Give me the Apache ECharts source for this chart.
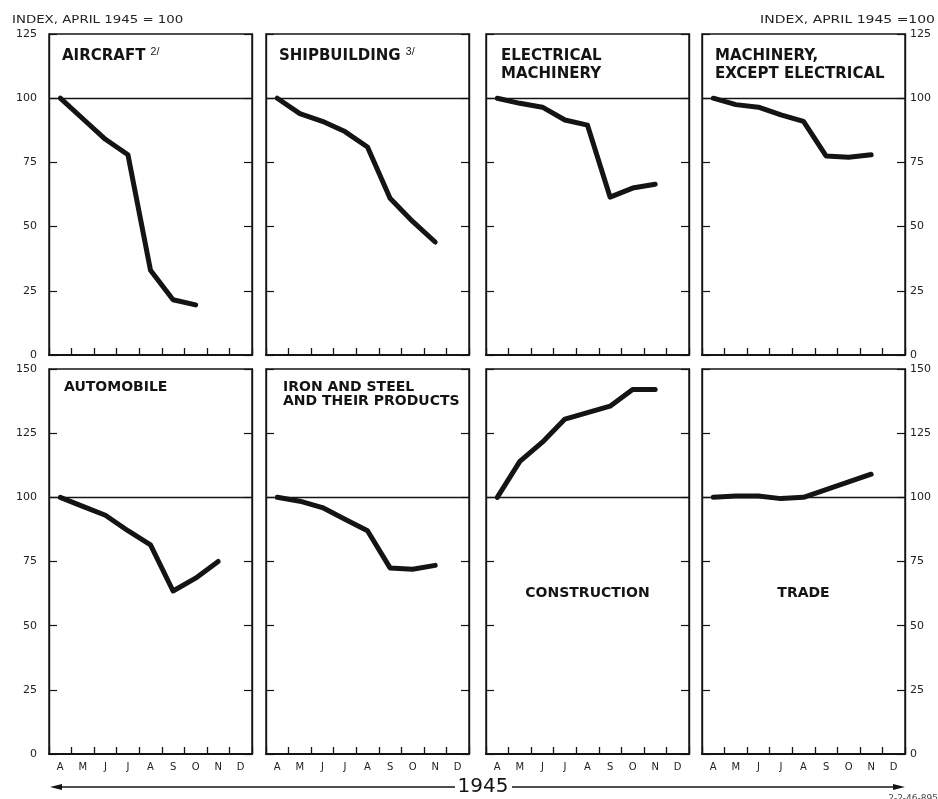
<!DOCTYPE html>
<html><head><meta charset="utf-8">
<script src="https://cdn.jsdelivr.net/npm/echarts@6/dist/echarts.min.js"></script>
<style>html,body{margin:0;padding:0;background:#fff}#c{width:938px;height:799px}</style>
</head><body><div id="c"></div>
<script>
// ---- data ----
const months = ['A','M','J','J','A','S','O','N','D'];
const aircraft = [100, 92, 84, 78, 33, 21.5, 19.5];
const shipbuilding = [100, 94, 91, 87, 81, 61, 52, 44];
const electricalMachinery = [100, 98, 96.5, 91.5, 89.5, 61.5, 65, 66.5];
const machineryExceptElectrical = [100, 97.5, 96.5, 93.5, 91, 77.5, 77, 78];
const automobile = [100, 96.5, 93, 87, 81.5, 63.5, 68.5, 75];
const ironAndSteel = [100, 98.5, 96, 91.5, 87, 72.5, 72, 73.5];
const construction = [100, 114, 121.5, 130.5, 133, 135.5, 142, 142];
const trade = [100, 100.5, 100.5, 99.5, 100, 103, 106, 109];
const topTicks = [0, 25, 50, 75, 100, 125];
const bottomTicks = [0, 25, 50, 75, 100, 125, 150];
const baseIndex = 100;
const headerLeft = 'INDEX, APRIL 1945 = 100';
const headerRight = 'INDEX, APRIL 1945 =100';
const yearLabel = '1945';
const codeLabel = '2-2-46-895';

const panels = [
  {data: aircraft, title: 'AIRCRAFT {s|2/}'},
  {data: shipbuilding, title: 'SHIPBUILDING {s|3/}'},
  {data: electricalMachinery, title: 'ELECTRICAL\nMACHINERY'},
  {data: machineryExceptElectrical, title: 'MACHINERY,\nEXCEPT ELECTRICAL'},
  {data: automobile, title: 'AUTOMOBILE'},
  {data: ironAndSteel, title: 'IRON AND STEEL\nAND THEIR PRODUCTS'},
  {data: construction, title: 'CONSTRUCTION', centered: true},
  {data: trade, title: 'TRADE', centered: true}
];

// ---- layout ----
const FONT = 'DejaVu Sans';
const INK = '#141414';
const colLeft = [49, 266, 486, 702];
const panelW = 203;
const rows = [{top: 34, height: 321, ticks: topTicks}, {top: 369, height: 385, ticks: bottomTicks}];
const titleOffsets = [[13, 13, 15, 13], [15, 17, 0, 0]];

const grids = [], xAxes = [], yAxes = [], series = [], graphics = [];
panels.forEach((p, i) => {
  const r = Math.floor(i / 4), c = i % 4;
  const row = rows[r];
  const ticks = row.ticks;
  grids.push({left: colLeft[c], top: row.top, width: panelW, height: row.height,
    show: true, borderColor: INK, borderWidth: 1.4, backgroundColor: 'transparent'});
  xAxes.push({
    gridIndex: i, type: 'category', data: months, boundaryGap: true,
    axisLine: {show: true, lineStyle: {color: INK, width: 2.2}},
    axisTick: {show: true, inside: true, length: 7, lineStyle: {color: INK, width: 1.3}},
    axisLabel: {show: r === 1, color: '#222', fontSize: 10, fontFamily: FONT, margin: 8},
    splitLine: {show: false}
  });
  const yBase = {
    gridIndex: i, type: 'value', min: ticks[0], max: ticks[ticks.length - 1],
    interval: ticks[1] - ticks[0],
    axisLine: {show: true, lineStyle: {color: INK, width: 1.4}},
    axisTick: {show: true, inside: true, length: 8, lineStyle: {color: INK, width: 1.2}},
    splitLine: {show: false}
  };
  yAxes.push(Object.assign({}, yBase, {position: 'left',
    axisLabel: {show: c === 0, color: '#222', fontSize: 11, fontFamily: FONT, margin: 12}}));
  yAxes.push(Object.assign({}, yBase, {position: 'right',
    axisLabel: {show: c === 3, color: '#222', fontSize: 11, fontFamily: FONT, margin: 5}}));
  series.push({
    type: 'line', xAxisIndex: i, yAxisIndex: 2 * i, data: p.data,
    showSymbol: false, symbol: 'none', silent: true, animation: false,
    lineStyle: {color: INK, width: 5, cap: 'round', join: 'round'},
    markLine: {silent: true, symbol: 'none', animation: false,
      label: {show: false},
      lineStyle: {color: INK, width: 1.3, type: 'solid'},
      data: [{yAxis: baseIndex}]}
  });
  // panel titles
  if (p.centered) {
    graphics.push({type: 'text', x: colLeft[c] + panelW / 2, y: 593,
      style: {text: p.title, fill: INK, font: 'bold 14px "' + FONT + '"',
        textAlign: 'center', textVerticalAlign: 'middle'}});
  } else {
    const fs = r === 0 ? 15 : 14;
    graphics.push({type: 'text', x: colLeft[c] + titleOffsets[r][c], y: r === 0 ? 47 : 381,
      style: {text: p.title, fill: INK, font: 'bold ' + fs + 'px "' + FONT + '"',
        lineHeight: r === 0 ? 18 : 13.5, textAlign: 'left', textVerticalAlign: 'top',
        rich: {s: {fontSize: 10.5, fontWeight: 'normal', fill: INK, verticalAlign: 'top', lineHeight: 13}}}});
  }
});

// header texts
graphics.push({type: 'text', x: 12, y: 20, scaleX: 1.27, style: {text: headerLeft, fill: '#222',
  font: '10.5px "' + FONT + '"', textAlign: 'left', textVerticalAlign: 'middle'}});
graphics.push({type: 'text', x: 935, y: 20, scaleX: 1.33, style: {text: headerRight, fill: '#222',
  font: '10.5px "' + FONT + '"', textAlign: 'right', textVerticalAlign: 'middle'}});
// year with arrows
const ay = 787;
graphics.push({type: 'line', shape: {x1: 56, y1: ay, x2: 455, y2: ay}, style: {stroke: INK, lineWidth: 1.3}});
graphics.push({type: 'polygon', shape: {points: [[50, ay], [62, ay - 3], [62, ay + 3]]}, style: {fill: INK}});
graphics.push({type: 'line', shape: {x1: 512, y1: ay, x2: 898, y2: ay}, style: {stroke: INK, lineWidth: 1.3}});
graphics.push({type: 'polygon', shape: {points: [[905, ay], [893, ay - 3], [893, ay + 3]]}, style: {fill: INK}});
graphics.push({type: 'text', x: 483, y: ay, style: {text: yearLabel, fill: INK,
  font: '20px "' + FONT + '"', textAlign: 'center', textVerticalAlign: 'middle'}});
graphics.push({type: 'text', x: 938, y: 794, style: {text: codeLabel, fill: '#444',
  font: '9px "' + FONT + '"', textAlign: 'right', textVerticalAlign: 'top'}});

const chart = echarts.init(document.getElementById('c'), null, {renderer: 'canvas'});
chart.setOption({
  animation: false,
  backgroundColor: '#fff',
  textStyle: {fontFamily: FONT},
  grid: grids, xAxis: xAxes, yAxis: yAxes, series: series,
  graphic: graphics
});
</script></body></html>
